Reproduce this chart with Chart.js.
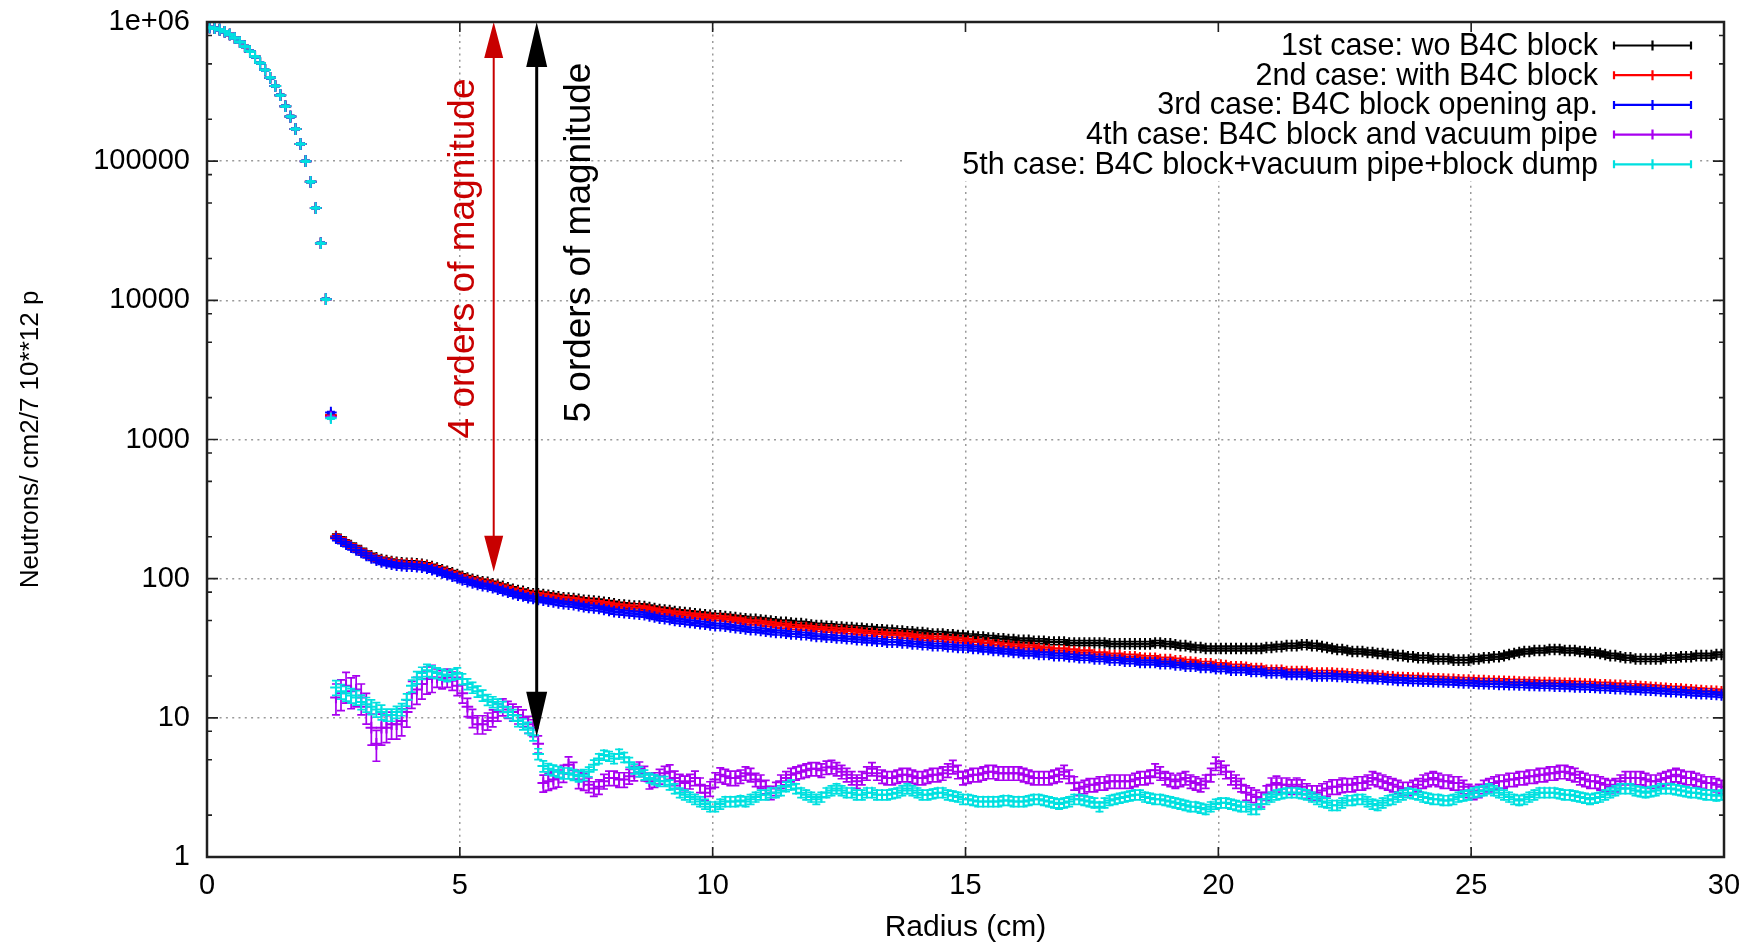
<!DOCTYPE html>
<html>
<head>
<meta charset="utf-8">
<title>Neutron flux vs radius</title>
<script src="https://cdn.jsdelivr.net/npm/chart.js@4.4.0/dist/chart.umd.min.js"></script>
<style>
  html, body { margin: 0; padding: 0; background: #fff; }
  canvas { display: block; }
</style>
</head>
<body>
<canvas id="flux-chart" width="1758" height="949"></canvas>
<script>
// radial bins are 0.1 cm wide, values are given at the bin centres
const binStep = 0.1;
const coreStart = 0.05;
const tailStart = 2.45;

// beam core (0.05 ... 2.35 cm), identical for all five cases
const coreFlux = [912000, 902000, 881000, 851000, 813000, 767000, 719000, 668000, 617000, 562000,
  507000, 452000, 398000, 347000, 298000, 248000, 209000, 170000, 133000, 100000,
  71000, 46000, 25700, 10200];

// 2.45 ... 29.95 cm
const case1Flux = [1480,
  201, 192, 183, 173, 166, 159, 152, 146, 141, 137,
  135, 133, 131, 130, 129, 129, 128, 127, 125, 122,
  119, 116, 113, 110, 107, 104, 101, 99, 97, 95,
  94, 92, 90, 88, 86, 84, 82, 81, 79, 78,
  78, 77, 76, 75, 74, 73, 72.5, 72, 71, 70,
  69.5, 69, 68.5, 67.5, 67, 66, 65, 64.5, 64, 63.5,
  63.5, 63, 62, 61, 60, 59.5, 59, 58, 57.5, 57,
  56.5, 56, 55.5, 55, 54.5, 54, 54, 53.5, 53, 52.5,
  52, 51.5, 51, 51, 50.5, 50, 49.5, 49, 48.5, 48.5,
  48, 47.5, 47.5, 47, 46.5, 46, 46, 45.5, 45.5, 45,
  45, 44.5, 44.5, 44, 44, 43.5, 43.5, 43, 43, 42.5,
  42.5, 42, 42, 41.5, 41.5, 41, 41, 40.5, 40, 40,
  40, 39.5, 39.5, 39, 39, 38.5, 38.5, 38, 38, 37.5,
  37.5, 37, 37, 36.5, 36.5, 36, 36, 36, 35.5, 35.5,
  35.5, 35, 35, 35, 35, 34.5, 34.5, 34.5, 34.5, 34.5,
  34.5, 34.5, 34.5, 34, 34, 34, 34, 34, 34, 34,
  34, 34, 34.5, 34.5, 34, 34, 33.5, 33, 33, 32.5,
  32, 32, 31.5, 31.5, 31.5, 31.5, 31.5, 31.5, 31.5, 31.5,
  31.5, 31.5, 31.5, 31.5, 32, 32, 32.5, 32.5, 33, 33,
  33, 33.5, 33.5, 33, 33, 32.5, 32, 31.5, 31, 31,
  30.5, 30, 30, 30, 29.5, 29.5, 29, 29, 28.5, 28.5,
  28, 28, 27.5, 27.5, 27, 27, 27, 26.5, 26.5, 26.5,
  26.5, 26, 26, 26, 26, 26.5, 26.5, 27, 27, 27.5,
  27.5, 28, 28.5, 29, 29.5, 30, 30, 30.5, 30.5, 30.5,
  31, 31, 31, 30.5, 30.5, 30.5, 30, 30, 29.5, 29.5,
  29, 28.5, 28, 28, 27.5, 27, 27, 26.5, 26.5, 26.5,
  26.5, 26.5, 26.5, 27, 27, 27, 27.5, 27.5, 27.5, 28,
  28, 28, 28, 28.5, 28.5];

const case2Flux = [1500,
  199, 190, 181, 171, 164, 157, 150, 144, 139, 135,
  133, 131, 129, 128, 127, 127, 126, 125, 123, 120,
  117, 114, 111, 108, 105, 102, 99, 97, 95, 93,
  92, 90, 88, 86, 84, 82, 80, 79, 77, 76,
  76, 75, 74, 73, 72, 71, 70.5, 70, 69, 68,
  67.5, 67, 66.5, 65.5, 65, 64, 63, 62.5, 62, 61.5,
  61.5, 61, 60, 59, 58, 57.5, 57, 56, 55.5, 55,
  54.5, 54, 53.5, 53, 52.5, 52, 52, 51.5, 51, 50.5,
  50, 49, 48.5, 48.5, 48, 47.5, 47, 46.5, 46, 46,
  45, 45, 44.5, 44.5, 44, 43.5, 43.5, 43, 43, 42.5,
  42.5, 42, 42, 41.5, 41, 40.5, 40.5, 40, 40, 39.5,
  39.5, 39.5, 39, 39, 38.5, 38, 37.5, 37.5, 37, 37,
  37, 36.5, 36.5, 36, 36, 35.5, 35, 35, 34.5, 34.5,
  33.5, 33.5, 33, 33, 32.5, 32.5, 32, 32, 32, 31.5,
  31, 31, 30.5, 30.5, 30.5, 30, 30, 29.5, 29.5, 29.5,
  28.5, 28.5, 28.5, 28, 28, 28, 27.5, 27.5, 27.5, 27,
  26.8, 26.8, 26.8, 26.2, 26.2, 26.2, 25.7, 25.7, 25.2, 25.2,
  25, 24.4, 24.4, 24.4, 23.9, 23.9, 23.8, 23.3, 23.3, 23.3,
  23.1, 22.6, 22.6, 22.6, 22, 22, 22, 22, 21.5, 21.5,
  21.5, 21.5, 21.5, 21, 21, 21, 21, 21, 20.8, 20.8,
  20.6, 20.6, 20.4, 20.4, 20.2, 20.2, 20, 20, 19.7, 19.7,
  19.5, 19.5, 19.4, 19.3, 19.3, 19.2, 19.2, 19.1, 19.1, 19,
  18.9, 18.9, 18.8, 18.7, 18.7, 18.6, 18.5, 18.5, 18.4, 18.4,
  18.3, 18.3, 18.2, 18.2, 18.1, 18.1, 18, 18, 17.9, 17.9,
  17.9, 17.8, 17.8, 17.7, 17.7, 17.6, 17.6, 17.5, 17.5, 17.4,
  17.3, 17.3, 17.2, 17.1, 17.1, 17, 16.9, 16.9, 16.8, 16.7,
  16.6, 16.5, 16.4, 16.3, 16.2, 16.2, 16.1, 16, 15.9, 15.8,
  15.7, 15.6, 15.6, 15.5, 15.4];

const case3Flux = [1560,
  195, 186, 177, 168, 161, 154, 147, 141, 136, 132,
  129, 127, 125, 124, 123, 123, 122, 121, 119, 116,
  113, 110, 107, 104, 101, 98, 95, 93, 91, 89,
  88, 86, 84, 82, 80, 78, 76, 75, 73, 72,
  71, 70, 69, 68, 67, 66, 65.5, 65, 64, 63,
  62, 61.5, 61, 60, 59, 58, 57.5, 57, 56.5, 56,
  55.5, 55, 54, 53, 52, 51.5, 51, 50, 49.5, 49,
  48.5, 48, 47.5, 47, 46.5, 46, 46, 45.5, 45, 44.5,
  44, 43.5, 43, 43, 42.5, 42, 41.5, 41, 41, 40.5,
  40, 40, 39.5, 39.5, 39, 38.5, 38.5, 38, 38, 37.5,
  37.5, 37, 37, 36.5, 36.5, 36, 36, 35.5, 35.5, 35,
  35, 35, 34.5, 34.5, 34, 34, 33.5, 33.5, 33, 33,
  33, 32.5, 32.5, 32, 32, 32, 31.5, 31.5, 31, 31,
  30.5, 30.5, 30, 30, 29.5, 29.5, 29, 29, 29, 28.5,
  28.5, 28.5, 28, 28, 28, 27.5, 27.5, 27, 27, 27,
  26.5, 26.5, 26.5, 26, 26, 26, 25.5, 25.5, 25.5, 25,
  25, 25, 25, 24.5, 24.5, 24.5, 24, 24, 23.5, 23.5,
  23.5, 23, 23, 23, 22.5, 22.5, 22.5, 22, 22, 22,
  22, 21.5, 21.5, 21.5, 21, 21, 21, 21, 20.5, 20.5,
  20.5, 20.5, 20.5, 20, 20, 20, 20, 20, 19.8, 19.8,
  19.6, 19.6, 19.4, 19.4, 19.2, 19.2, 19, 19, 18.8, 18.8,
  18.6, 18.6, 18.5, 18.4, 18.4, 18.3, 18.3, 18.2, 18.2, 18.1,
  18, 18, 17.9, 17.8, 17.8, 17.7, 17.6, 17.6, 17.5, 17.5,
  17.4, 17.4, 17.3, 17.3, 17.2, 17.2, 17.1, 17.1, 17, 17,
  17, 16.9, 16.9, 16.8, 16.8, 16.7, 16.7, 16.6, 16.6, 16.5,
  16.4, 16.4, 16.3, 16.2, 16.2, 16.1, 16, 16, 15.9, 15.8,
  15.8, 15.7, 15.6, 15.5, 15.4, 15.4, 15.3, 15.2, 15.1, 15,
  14.9, 14.9, 14.8, 14.7, 14.6];

const case4Flux = [1450,
  14, 15, 17, 15.5, 16, 14, 12, 8.5, 6.5, 8.5,
  8.5, 9, 9, 9.5, 11, 15, 16, 17.5, 19, 19.5,
  19.5, 19, 19.5, 18.5, 17, 15, 12, 10, 9, 9,
  9.5, 10, 11, 12, 11.5, 11, 10.5, 10, 9, 8.5,
  6.5, 3.4, 3.5, 3.6, 3.7, 4.0, 4.6, 4.2, 3.6, 3.5,
  3.3, 3.1, 3.2, 3.5, 3.7, 3.7, 3.6, 3.6, 3.8, 4.0,
  4.3, 4.0, 3.5, 3.6, 3.8, 4.0, 4.1, 3.7, 3.5, 3.4,
  3.5, 3.7, 3.3, 2.9, 3.1, 3.6, 3.9, 3.8, 3.7, 3.7,
  3.8, 4.0, 3.9, 3.6, 3.5, 3.2, 2.9, 3.1, 3.5, 3.7,
  3.9, 4.0, 4.1, 4.2, 4.3, 4.3, 4.2, 4.4, 4.45, 4.3,
  4.1, 3.9, 3.7, 3.5, 3.7, 4.0, 4.3, 4.0, 3.8, 3.7,
  3.7, 3.8, 3.9, 3.9, 3.8, 3.7, 3.7, 3.8, 3.9, 3.9,
  4.0, 4.2, 4.45, 4.1, 3.7, 3.8, 3.9, 3.9, 4.0, 4.1,
  4.1, 4.0, 4.0, 4.0, 4.0, 4.0, 3.9, 3.8, 3.7, 3.7,
  3.7, 3.7, 3.8, 3.9, 4.1, 3.8, 3.4, 3.1, 3.2, 3.3,
  3.3, 3.4, 3.4, 3.5, 3.5, 3.5, 3.5, 3.5, 3.6, 3.7,
  3.7, 3.8, 4.2, 4.0, 3.7, 3.6, 3.5, 3.6, 3.7, 3.5,
  3.4, 3.3, 3.5, 3.9, 4.7, 4.4, 4.1, 3.7, 3.5, 3.3,
  2.9, 2.8, 2.7, 2.6, 2.9, 3.3, 3.4, 3.3, 3.3, 3.2,
  3.3, 3.2, 3.0, 2.9, 2.9, 3.0, 3.1, 3.2, 3.2, 3.3,
  3.3, 3.3, 3.4, 3.4, 3.5, 3.7, 3.6, 3.5, 3.4, 3.3,
  3.2, 3.1, 3.1, 3.2, 3.3, 3.5, 3.6, 3.7, 3.6, 3.5,
  3.5, 3.4, 3.4, 3.2, 3.0, 2.9, 3.0, 3.2, 3.3, 3.4,
  3.5, 3.5, 3.6, 3.6, 3.7, 3.7, 3.8, 3.8, 3.9, 3.9,
  4.0, 4.0, 4.1, 4.1, 4.0, 3.9, 3.7, 3.6, 3.5, 3.5,
  3.4, 3.3, 3.2, 3.3, 3.5, 3.7, 3.7, 3.7, 3.7, 3.6,
  3.5, 3.5, 3.6, 3.7, 3.8, 3.9, 3.8, 3.7, 3.7, 3.6,
  3.5, 3.4, 3.4, 3.3, 3.2];

const case5Flux = [1420,
  16.5, 15.5, 15, 14.5, 14, 13, 12.5, 12, 11.5, 11,
  10.5, 10.5, 11, 11.5, 13.5, 17, 19.5, 21, 22, 21.5,
  21, 20.5, 20, 20.5, 21, 19, 17.5, 16.5, 15.5, 14.5,
  13.5, 13, 12.5, 12, 11, 10.5, 9.5, 9, 8.5, 7.5,
  5.5, 4.5, 4.3, 4.2, 4.1, 4.0, 4.0, 3.9, 3.8, 3.9,
  4.1, 4.6, 5.1, 5.4, 5.3, 5.1, 5.5, 5.2, 4.8, 4.3,
  4.1, 3.9, 3.7, 3.6, 3.5, 3.5, 3.3, 3.1, 2.9, 2.8,
  2.7, 2.6, 2.5, 2.4, 2.3, 2.3, 2.4, 2.5, 2.5, 2.5,
  2.55, 2.5, 2.6, 2.7, 2.8, 2.8, 2.9, 2.9, 3.0, 3.2,
  3.3, 3.1, 2.9, 2.8, 2.7, 2.6, 2.7, 2.9, 3.0, 3.1,
  3.0, 2.9, 2.9, 2.8, 2.8, 2.9, 2.9, 2.8, 2.8, 2.8,
  2.85, 2.9, 3.0, 3.1, 3.0, 2.9, 2.8, 2.8, 2.85, 2.9,
  2.9, 2.8, 2.75, 2.7, 2.6, 2.6, 2.55, 2.5, 2.5, 2.5,
  2.5, 2.5, 2.55, 2.55, 2.5, 2.5, 2.5, 2.55, 2.6, 2.6,
  2.55, 2.5, 2.45, 2.4, 2.45, 2.5, 2.6, 2.6, 2.55, 2.5,
  2.45, 2.3, 2.45, 2.55, 2.6, 2.65, 2.7, 2.75, 2.8, 2.8,
  2.7, 2.65, 2.6, 2.6, 2.55, 2.5, 2.45, 2.4, 2.35, 2.3,
  2.3, 2.25, 2.2, 2.3, 2.4, 2.45, 2.45, 2.4, 2.35, 2.3,
  2.3, 2.2, 2.2, 2.4, 2.6, 2.7, 2.8, 2.85, 2.9, 2.9,
  2.9, 2.85, 2.8, 2.7, 2.6, 2.5, 2.45, 2.35, 2.35, 2.45,
  2.55, 2.55, 2.6, 2.6, 2.5, 2.4, 2.35, 2.45, 2.55, 2.6,
  2.7, 2.8, 2.9, 2.85, 2.8, 2.7, 2.65, 2.6, 2.6, 2.55,
  2.55, 2.6, 2.7, 2.75, 2.8, 2.9, 2.95, 3.0, 3.1, 3.0,
  2.9, 2.8, 2.7, 2.6, 2.55, 2.6, 2.7, 2.8, 2.9, 2.9,
  2.9, 2.9, 2.85, 2.8, 2.8, 2.75, 2.7, 2.65, 2.6, 2.65,
  2.7, 2.8, 2.9, 3.0, 3.1, 3.1, 3.1, 3.0, 2.95, 2.9,
  2.95, 3.0, 3.1, 3.1, 3.1, 3.05, 3.0, 2.95, 2.9, 2.9,
  2.85, 2.8, 2.8, 2.75, 2.8];

// statistical error in %, one entry per cm from 2.5 cm on
const coreErrPct = 1.5;
const shieldErrPct = 4;
const case4ErrPct = [25, 22, 15, 14, 14, 12, 12, 12, 11, 11, 11, 11, 11, 11,
  11, 11, 11, 11, 12, 12, 11, 11, 11, 11, 11, 11, 11, 11];
const case5ErrPct = [12, 10, 9, 9, 9, 8, 8, 8, 8, 8, 8, 8, 8, 8,
  8, 8, 8, 8, 8, 8, 8, 8, 8, 8, 8, 8, 8, 8];

const caseLabels = [
  "1st case: wo B4C block",
  "2nd case: with B4C block",
  "3rd case: B4C block opening ap.",
  "4th case: B4C block and vacuum pipe",
  "5th case: B4C block+vacuum pipe+block dump",
];
const caseColors = ["#000000", "#ff0000", "#0000ff", "#a800f0", "#00e0e0"];

const xTickValues = [0, 5, 10, 15, 20, 25, 30];
const xTickLabels = ["0", "5", "10", "15", "20", "25", "30"];
const yTickValues = [1, 10, 100, 1000, 10000, 100000, 1000000];
const yTickLabels = ["1", "10", "100", "1000", "10000", "100000", "1e+06"];
const yMinorSteps = [2, 5, 8];

// the two "orders of magnitude" markers
const magnitudeNotes = [
  { x: 5.67, from: 1e6, to: 112, textX: 5.08, textY: 2.0e4, text: "4 orders of magnitude", color: "#c80000", width: 2, head: 36, headW: 19 },
  { x: 6.52, from: 1e6, to: 7.3, textX: 7.38, textY: 2.6e4, text: "5 orders of magnitude", color: "#000000", width: 3, head: 45, headW: 21 },
];

const fontFamily = '"Liberation Sans", Arial, Helvetica, sans-serif';
Chart.defaults.font.family = fontFamily;
Chart.defaults.color = "#000";

function buildPoints(tail) {
  const pts = coreFlux.map((y, i) => ({ x: +(coreStart + i * binStep).toFixed(2), y }));
  tail.forEach((y, i) => pts.push({ x: +(tailStart + i * binStep).toFixed(2), y }));
  return pts;
}

function errorPctAt(errPct, x) {
  if (x < 2.5) return coreErrPct;
  if (typeof errPct === "number") return errPct;
  return errPct[Math.min(errPct.length - 1, Math.floor(x - 2.5))];
}

const caseFlux = [case1Flux, case2Flux, case3Flux, case4Flux, case5Flux];
const caseErr = [shieldErrPct, shieldErrPct, shieldErrPct, case4ErrPct, case5ErrPct];

const datasets = caseFlux.map((flux, i) => ({
  label: caseLabels[i],
  data: buildPoints(flux),
  errPct: caseErr[i],
  borderColor: caseColors[i],
  backgroundColor: caseColors[i],
  pointStyle: "cross",
  pointRadius: 5.8,
  pointBorderWidth: 2,
  showLine: false,
  order: caseFlux.length - i, // later cases drawn on top, like gnuplot
}));

function isDecade(v) {
  return yTickValues.includes(v);
}

const errorBars = {
  id: "errorBars",
  beforeDatasetDraw(chart, args) {
    const ds = chart.data.datasets[args.index];
    const { ctx, chartArea: a, scales: { y } } = chart;
    ctx.save();
    ctx.beginPath();
    ctx.rect(a.left, a.top, a.right - a.left, a.bottom - a.top);
    ctx.clip();
    ctx.strokeStyle = ds.borderColor;
    ctx.lineWidth = 1.7;
    ctx.beginPath();
    args.meta.data.forEach((pt, i) => {
      const d = ds.data[i];
      const e = errorPctAt(ds.errPct, d.x) / 100;
      const top = y.getPixelForValue(d.y * (1 + e));
      const bot = y.getPixelForValue(d.y * (1 - e));
      const cap = 4;
      ctx.moveTo(pt.x, top); ctx.lineTo(pt.x, bot);
      ctx.moveTo(pt.x - cap, top); ctx.lineTo(pt.x + cap, top);
      ctx.moveTo(pt.x - cap, bot); ctx.lineTo(pt.x + cap, bot);
    });
    ctx.stroke();
    ctx.restore();
  },
};

const keyBox = {
  id: "keyBox",
  beforeDatasetsDraw(chart) {
    const { ctx, chartArea: a } = chart;
    ctx.save();
    ctx.fillStyle = "#fff";
    ctx.fillRect(a.right - 818, a.top + 1, 794, 158);
    ctx.restore();
  },
  afterDatasetsDraw(chart) {
    const { ctx, chartArea: a } = chart;
    ctx.save();
    ctx.font = `30.5px ${fontFamily}`;
    ctx.textAlign = "right";
    ctx.textBaseline = "middle";
    chart.data.datasets.forEach((ds, i) => {
      const rowY = a.top + 23.5 + i * 29.7;
      const textRight = a.right - 126;
      const x0 = a.right - 110;
      const x1 = a.right - 33;
      const xm = (x0 + x1) / 2;
      ctx.fillStyle = "#000";
      ctx.fillText(ds.label, textRight, rowY + 1);
      ctx.strokeStyle = ds.borderColor;
      ctx.lineWidth = 2.2;
      ctx.beginPath();
      ctx.moveTo(x0, rowY); ctx.lineTo(x1, rowY);
      ctx.moveTo(x0, rowY - 4); ctx.lineTo(x0, rowY + 4);
      ctx.moveTo(x1, rowY - 4); ctx.lineTo(x1, rowY + 4);
      ctx.moveTo(xm, rowY - 5); ctx.lineTo(xm, rowY + 5);
      ctx.stroke();
    });
    ctx.restore();
  },
};

const notes = {
  id: "notes",
  afterDatasetsDraw(chart) {
    const { ctx, scales: { x, y } } = chart;
    magnitudeNotes.forEach((n) => {
      const px = x.getPixelForValue(n.x);
      const yTop = y.getPixelForValue(n.from);
      const yBot = y.getPixelForValue(n.to);
      ctx.save();
      ctx.strokeStyle = n.color;
      ctx.fillStyle = n.color;
      ctx.lineWidth = n.width;
      ctx.beginPath();
      ctx.moveTo(px, yTop + n.head - 2);
      ctx.lineTo(px, yBot - n.head + 2);
      ctx.stroke();
      ctx.beginPath();
      ctx.moveTo(px, yTop);
      ctx.lineTo(px - n.headW / 2, yTop + n.head);
      ctx.lineTo(px + n.headW / 2, yTop + n.head);
      ctx.closePath();
      ctx.moveTo(px, yBot);
      ctx.lineTo(px - n.headW / 2, yBot - n.head);
      ctx.lineTo(px + n.headW / 2, yBot - n.head);
      ctx.closePath();
      ctx.fill();
      ctx.translate(x.getPixelForValue(n.textX), y.getPixelForValue(n.textY));
      ctx.rotate(-Math.PI / 2);
      ctx.font = `37px ${fontFamily}`;
      ctx.textAlign = "center";
      ctx.textBaseline = "middle";
      ctx.fillText(n.text, 0, 0);
      ctx.restore();
    });
  },
};

const frame = {
  id: "frame",
  afterDatasetsDraw(chart) {
    const { ctx, chartArea: a, scales: { x, y } } = chart;
    ctx.save();
    ctx.strokeStyle = "#202020";
    ctx.lineWidth = 1.6;
    ctx.beginPath();
    x.ticks.forEach((t) => {
      const px = x.getPixelForValue(t.value);
      ctx.moveTo(px, a.bottom); ctx.lineTo(px, a.bottom - 10);
      ctx.moveTo(px, a.top); ctx.lineTo(px, a.top + 10);
    });
    y.ticks.forEach((t) => {
      const py = y.getPixelForValue(t.value);
      const len = isDecade(t.value) ? 11 : 5;
      ctx.moveTo(a.left, py); ctx.lineTo(a.left + len, py);
      ctx.moveTo(a.right, py); ctx.lineTo(a.right - len, py);
    });
    ctx.stroke();
    ctx.lineWidth = 2.5;
    ctx.strokeRect(a.left, a.top, a.right - a.left, a.bottom - a.top);
    ctx.restore();
  },
};

const gridColor = "#9a9a9a";

new Chart(document.getElementById("flux-chart"), {
  type: "scatter",
  data: { datasets },
  options: {
    responsive: false,
    devicePixelRatio: 1,
    animation: false,
    layout: { padding: { top: 22, right: 34, left: 0, bottom: 0 } },
    plugins: {
      legend: { display: false },
      tooltip: { enabled: false },
    },
    scales: {
      x: {
        type: "linear",
        min: 0,
        max: 30,
        afterBuildTicks: (scale) => {
          scale.ticks = xTickValues.map((value) => ({ value }));
        },
        ticks: {
          padding: 12,
          font: { size: 29 },
          color: "#000",
          callback: (v) => xTickLabels[xTickValues.indexOf(v)] ?? "",
        },
        grid: {
          color: (c) => (c.tick && (c.tick.value === 0 || c.tick.value === 30) ? "rgba(0,0,0,0)" : gridColor),
          lineWidth: 1.5,
          drawTicks: false,
        },
        border: { display: false, dash: [2, 4.3] },
        title: {
          display: true,
          text: "Radius (cm)",
          font: { size: 30 },
          color: "#000",
          padding: { top: 0, bottom: 3 },
        },
        afterFit: (scale) => { scale.height = 92; },
      },
      y: {
        type: "logarithmic",
        min: 1,
        max: 1e6,
        afterBuildTicks: (scale) => {
          const list = [];
          yTickValues.forEach((v, i) => {
            list.push({ value: v, major: true });
            if (i < yTickValues.length - 1) yMinorSteps.forEach((m) => list.push({ value: v * m }));
          });
          scale.ticks = list;
        },
        ticks: {
          autoSkip: false,
          padding: 17,
          font: { size: 29 },
          color: "#000",
          callback: (v) => {
            const idx = yTickValues.indexOf(v);
            return idx >= 0 ? yTickLabels[idx] : "";
          },
        },
        grid: {
          color: (c) => (c.tick && isDecade(c.tick.value) && c.tick.value !== 1 && c.tick.value !== 1e6 ? gridColor : "rgba(0,0,0,0)"),
          lineWidth: 1.5,
          drawTicks: false,
        },
        border: { display: false, dash: [2, 4.3] },
        title: {
          display: true,
          text: "Neutrons/ cm2/7 10**12 p",
          font: { size: 26 },
          color: "#000",
          padding: { top: 15, bottom: 0 },
        },
        afterFit: (scale) => {
          scale.width = 207;
          scale.paddingTop = 0;
          scale.paddingBottom = 0;
        },
      },
    },
  },
  plugins: [keyBox, errorBars, notes, frame],
});
</script>
</body>
</html>
